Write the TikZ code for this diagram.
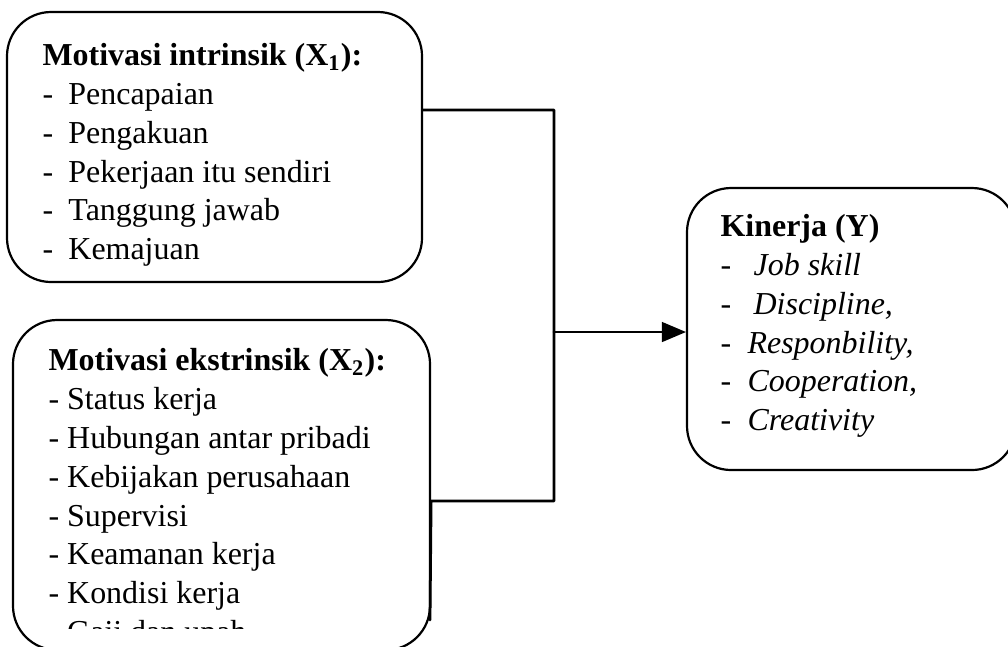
\documentclass[tikz,border=0pt]{standalone}
\usepackage{fontspec}
\setmainfont{Liberation Serif}
\usepackage{pgf,tikz}
\usetikzlibrary{arrows}
\newlength\px
\setlength\px{0.363pt}
\newcommand{\dashitem}[1][9.4pt]{\makebox[#1][l]{-}}

\begin{document}
\begin{tikzpicture}[line cap=round,line join=round,>=triangle 45,x=0.363pt,y=-0.363pt,
    kotak/.style={draw,rounded corners=16pt,line width=0.8pt,inner sep=0pt},
    teks/.style={font=\fontsize{11.6pt}{14.1pt}\selectfont,align=left,inner sep=0pt,anchor=west},
    garis/.style={line width=1pt}]
\useasboundingbox (0,0) rectangle (1008,646);
%box X1
\node[kotak,minimum width=415*\px,minimum height=270*\px] (x1) at (214.5,147) {};
\node[teks] (x1t) at (42,155)
    {\textbf{Motivasi intrinsik (X\textsubscript{1}):}\\
     \dashitem Pencapaian\\
     \dashitem Pengakuan\\
     \dashitem Pekerjaan itu sendiri\\
     \dashitem Tanggung jawab\\
     \dashitem Kemajuan};
%box X2 (teks terpotong di bawah)
\node[kotak,minimum width=417*\px,minimum height=330*\px] (x2) at (221.5,485) {};
\begin{scope}
\clip (0,0) rectangle (1008,628);
\node[teks] (x2t) at (48,499)
    {\textbf{Motivasi ekstrinsik (X\textsubscript{2}):}\\
     - Status kerja\\
     - Hubungan antar pribadi\\
     - Kebijakan perusahaan\\
     - Supervisi\\
     - Keamanan kerja\\
     - Kondisi kerja\\
     - Gaji dan upah};
\end{scope}
%box Y
\node[kotak,minimum width=329*\px,minimum height=282*\px] (x3) at (851.5,329) {};
\node[teks] (x3t) at (720,326)
    {\textbf{Kinerja (Y)}\\
     \dashitem[12pt]\textit{Job skill}\\
     \dashitem[12pt]\textit{Discipline,}\\
     \dashitem[9.8pt]\textit{Responbility,}\\
     \dashitem[9.8pt]\textit{Cooperation,}\\
     \dashitem[9.8pt]\textit{Creativity}};
%%%%%%%%
\coordinate (j1) at (554,110);%atas
\coordinate (j2) at (554,501);%bawah
\coordinate (ja) at (554,332);%panah
\coordinate (x2end) at (430,620);
%%lines
\draw [garis] (x1.east |- j1) -- (j1) -- (j2) -- (x2.east |- j2) -- (x2end);
\draw [garis,->] (ja) -- (x3.west |- ja);
\end{tikzpicture}
\end{document}
